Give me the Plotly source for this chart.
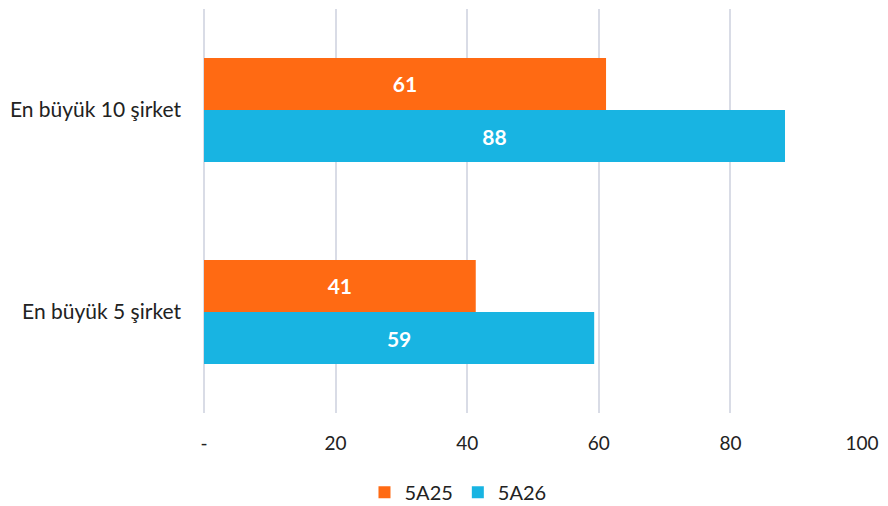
import plotly.graph_objects as go

categories = ["En büyük 10 şirket", "En büyük 5 şirket"]
series_names = ["5A25", "5A26"]
values_5a25 = [61.1, 41.3]
values_5a26 = [88.3, 59.3]
tick_vals = [0, 20, 40, 60, 80, 100]
tick_text = ["-", "20", "40", "60", "80", "100"]
colors = ["#FF6A13", "#18B4E2"]

FONT = "Lato, 'Open Sans', sans-serif"

fig = go.Figure()
for name, vals, col in zip(series_names, [values_5a25, values_5a26], colors):
    fig.add_trace(go.Bar(
        name=name, y=categories, x=vals, orientation="h",
        marker=dict(color=col, line=dict(width=0)),
        texttemplate="%{x:.0f}", textposition="inside", insidetextanchor="middle",
        textfont=dict(color="white", size=21, family=FONT, weight="bold"),
        hoverinfo="skip",
    ))

# page body has an 8px margin, so the figure is sized/offset to compensate
fig.update_layout(
    width=880, height=498,
    margin=dict(l=196, r=26, t=1, b=93, autoexpand=False),
    plot_bgcolor="white", paper_bgcolor="white",
    barmode="group", bargap=0.485, bargroupgap=0,
    font=dict(family=FONT, size=19, color="#222222"),
    showlegend=True,
    legend=dict(orientation="h", xref="paper", yref="paper",
                x=0.386, xanchor="center", y=-0.196, yanchor="middle",
                font=dict(size=20), tracegroupgap=0),
    uniformtext=dict(mode=False),
)
fig.update_xaxes(range=[0, 100], tickvals=tick_vals, ticktext=tick_text,
                 showgrid=True, gridcolor="#D9DCE6", gridwidth=1.5,
                 zeroline=True, zerolinecolor="#D9DCE6", zerolinewidth=1.5,
                 showline=False, ticks="", ticklabelstandoff=17,
                 automargin=False, tickfont=dict(size=19))
fig.update_yaxes(autorange="reversed", showgrid=False, zeroline=False,
                 showline=False, ticks="", ticklabelstandoff=22,
                 automargin=False, tickfont=dict(size=21))

fig.write_html("out.html")
